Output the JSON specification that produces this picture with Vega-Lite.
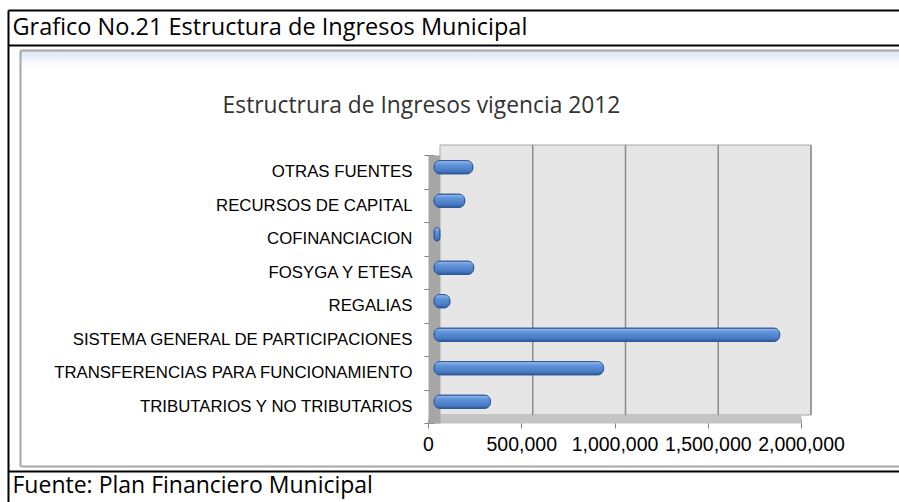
{
  "$schema": "https://vega.github.io/schema/vega-lite/v6.json",
  "width": 879,
  "height": 416,
  "autosize": {"type": "none"},
  "padding": {"left": 20, "top": 50, "right": 0, "bottom": 36},
  "background": "white",
  "config": {
    "view": {
      "stroke": null,
      "fill": {"gradient": "linear", "x1": 0, "y1": 0, "x2": 0, "y2": 1, "stops": [{"offset": 0, "color": "#d9e4f3"}, {"offset": 0.04, "color": "#ffffff"}, {"offset": 1, "color": "#ffffff"}]}
    },
    "axis": {"grid": false}
  },
  "data": {
    "values": [
      {"cat": "OTRAS FUENTES", "value": 209000},
      {"cat": "RECURSOS DE CAPITAL", "value": 166000},
      {"cat": "COFINANCIACION", "value": 32000},
      {"cat": "FOSYGA Y ETESA", "value": 214000},
      {"cat": "REGALIAS", "value": 86000},
      {"cat": "SISTEMA GENERAL DE PARTICIPACIONES", "value": 1859000},
      {"cat": "TRANSFERENCIAS PARA FUNCIONAMIENTO", "value": 912000},
      {"cat": "TRIBUTARIOS Y NO TRIBUTARIOS", "value": 304000}
    ]
  },
  "resolve": {"scale": {"x": "independent", "y": "independent"}},
  "layer": [
    {
      "data": {"values": [{}]},
      "mark": {"type": "point", "opacity": 0},
      "encoding": {
        "x": {
          "datum": 0, "type": "quantitative",
          "scale": {"domain": [0, 1], "range": [-12, 880]},
          "axis": {"orient": "top", "offset": 40, "domain": true, "domainColor": "#000000", "domainWidth": 2, "ticks": false, "labels": false, "grid": false,
            "title": "Grafico No.21 Estructura de Ingresos Municipal", "titleX": -8, "titleY": 24, "titleAlign": "left", "titleBaseline": "alphabetic",
            "titleFont": "Open Sans", "titleFontSize": 23.5, "titleFontWeight": "normal", "titleColor": "#000000"}
        },
        "y": {
          "datum": 0, "type": "quantitative",
          "scale": {"domain": [0, 1], "range": [-40, 452]},
          "axis": {"orient": "left", "offset": 12, "domain": true, "domainColor": "#000000", "domainWidth": 2, "ticks": false, "labels": false, "grid": false,
            "title": "Estructrura de Ingresos vigencia 2012", "titleAngle": 0, "titleX": 413, "titleY": 62, "titleAlign": "center", "titleBaseline": "alphabetic",
            "titleFont": "Open Sans", "titleFontSize": 22.8, "titleFontWeight": "normal", "titleColor": "#333333"}
        }
      }
    },
    {
      "data": {"values": [{}]},
      "mark": {"type": "point", "opacity": 0},
      "encoding": {
        "x": {
          "datum": 0, "type": "quantitative",
          "scale": {"domain": [0, 1], "range": [-12, 880]},
          "axis": {"orient": "top", "offset": 5, "domain": true, "domainColor": "#000000", "domainWidth": 2, "ticks": false, "labels": false, "grid": false, "title": null}
        }
      }
    },
    {
      "data": {"values": [{}]},
      "mark": {"type": "point", "opacity": 0},
      "encoding": {
        "x": {
          "datum": 0, "type": "quantitative",
          "scale": {"domain": [0, 1], "range": [-12, 880]},
          "axis": {"orient": "bottom", "offset": 5, "domain": true, "domainColor": "#000000", "domainWidth": 2, "ticks": false, "labels": false, "grid": false,
            "title": "Fuente: Plan Financiero Municipal", "titleX": -8, "titleY": 21, "titleAlign": "left", "titleBaseline": "alphabetic",
            "titleFont": "Open Sans", "titleFontSize": 23, "titleFontWeight": "normal", "titleColor": "#000000"}
        }
      }
    },
    {
      "data": {"values": [{}]},
      "mark": {"type": "point", "opacity": 0},
      "encoding": {
        "x": {
          "datum": 0, "type": "quantitative",
          "scale": {"domain": [0, 1], "range": [0, 880]},
          "axis": {"orient": "top", "offset": 0, "domain": true, "domainColor": "#a6a6a6", "domainWidth": 2, "ticks": false, "labels": false, "grid": false, "title": null}
        },
        "y": {
          "datum": 0, "type": "quantitative",
          "scale": {"domain": [0, 1], "range": [0, 416]},
          "axis": {"orient": "left", "offset": 0, "domain": true, "domainColor": "#a6a6a6", "domainWidth": 2, "ticks": false, "labels": false, "grid": false, "title": null}
        }
      }
    },
    {
      "data": {"values": [{}]},
      "mark": {"type": "point", "opacity": 0},
      "encoding": {
        "x": {
          "datum": 0, "type": "quantitative",
          "scale": {"domain": [0, 1], "range": [0, 880]},
          "axis": {"orient": "bottom", "offset": 0, "domain": true, "domainColor": "#a6a6a6", "domainWidth": 2, "ticks": false, "labels": false, "grid": false, "title": null}
        }
      }
    },
    {
      "data": {"values": [{}]},
      "mark": {"type": "rect", "fill": "#e6e6e6", "stroke": "#a6a6a6", "strokeWidth": 1},
      "encoding": {
        "x": {"datum": 0, "type": "quantitative", "scale": {"domain": [0, 2000000], "range": [420, 791]}, "axis": null},
        "x2": {"datum": 2000000},
        "y": {"datum": 0, "type": "quantitative", "scale": {"domain": [0, 1], "range": [95, 365]}, "axis": null},
        "y2": {"datum": 1}
      }
    },
    {
      "data": {"values": [{"g": 500000}, {"g": 1000000}, {"g": 1500000}, {"g": 2000000}]},
      "mark": {"type": "rule", "color": "#8c8c8c", "strokeWidth": 1.5},
      "encoding": {
        "x": {"field": "g", "type": "quantitative", "scale": {"domain": [0, 2000000], "range": [420, 791]}, "axis": null},
        "y": {"datum": 0, "type": "quantitative", "scale": {"domain": [0, 1], "range": [95, 365]}, "axis": null},
        "y2": {"datum": 1}
      }
    },
    {
      "mark": {"type": "point", "opacity": 0},
      "encoding": {
        "x": {
          "datum": 0, "type": "quantitative",
          "scale": {"domain": [0, 2000000], "range": [408, 781]},
          "axis": {"orient": "bottom", "offset": -47, "values": [0, 500000, 1000000, 1500000, 2000000], "format": ",d",
            "domainColor": "#c4c4c4", "domainWidth": 8, "tickColor": "#808080", "tickSize": 9, "labelPadding": 7,
            "labelFont": "Liberation Sans", "labelFontSize": 19.5, "labelColor": "#000000", "labelFlush": false, "labelOverlap": false, "grid": false, "title": null}
        },
        "y": {
          "field": "cat", "type": "nominal", "sort": null,
          "scale": {"type": "band", "range": [105, 373], "paddingInner": 0, "paddingOuter": 0},
          "axis": {"orient": "left", "offset": -414, "domainColor": "#a6a6a6", "domainWidth": 12, "tickColor": "#808080", "tickSize": 10, "tickBand": "extent",
            "labelPadding": 12, "labelFont": "Liberation Sans", "labelFontSize": 16.8, "labelColor": "#000000", "labelLimit": 500, "title": null, "grid": false}
        }
      }
    },
    {
      "mark": {
        "type": "bar", "cornerRadius": 6, "stroke": "#2f5597", "strokeWidth": 1,
        "fill": {"gradient": "linear", "x1": 0, "y1": 0, "x2": 0, "y2": 1, "stops": [{"offset": 0, "color": "#9dbfeb"}, {"offset": 0.3, "color": "#5f93da"}, {"offset": 0.75, "color": "#4a7cc4"}, {"offset": 1, "color": "#2e5c9e"}]}
      },
      "encoding": {
        "y": {"field": "cat", "type": "nominal", "sort": null, "scale": {"type": "band", "range": [100.5, 368.5], "paddingInner": 0.6, "paddingOuter": 0.3}, "axis": null},
        "x": {"field": "value", "type": "quantitative", "scale": {"domain": [0, 2000000], "range": [414, 786]}, "axis": null}
      }
    }
  ]
}
